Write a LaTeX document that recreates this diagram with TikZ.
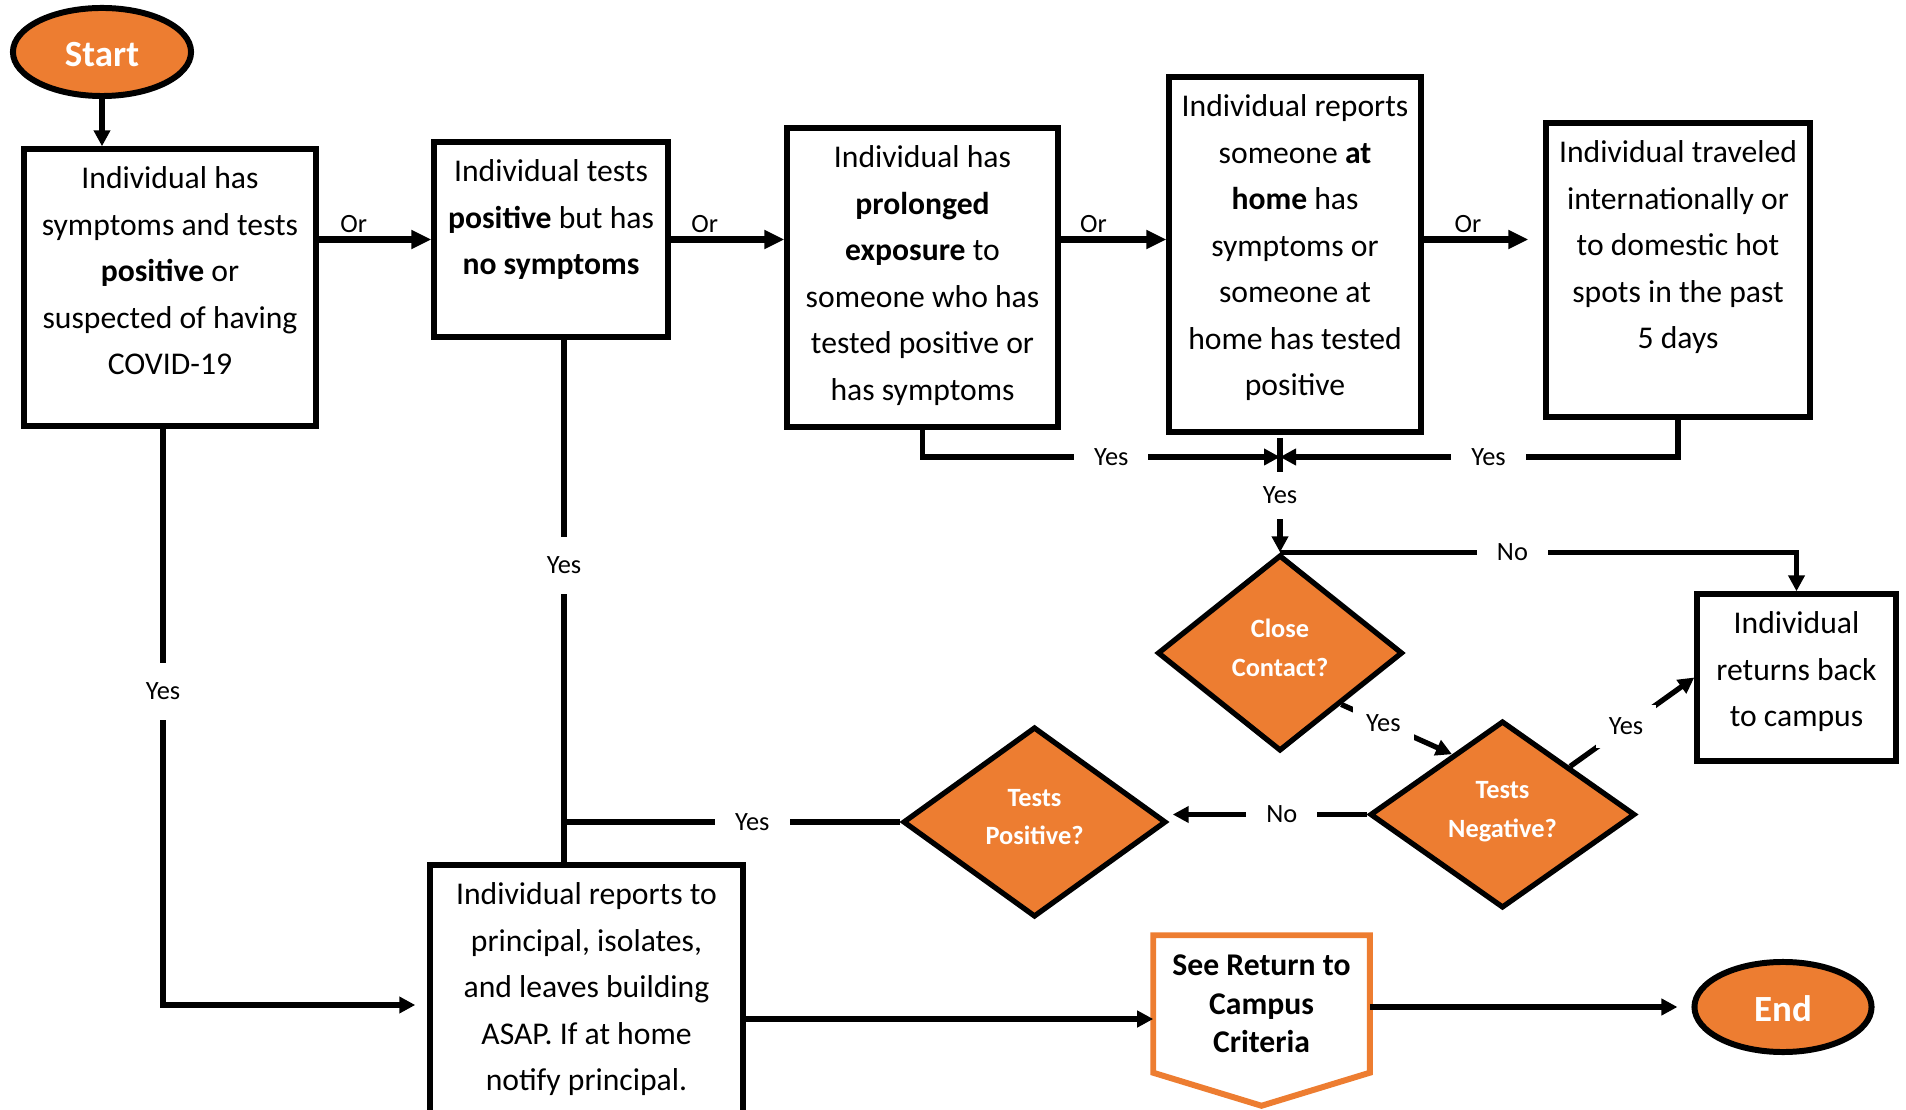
\documentclass[tikz,border=0pt]{standalone}
\usepackage{fontspec}
\setmainfont{Carlito}
\usetikzlibrary{shapes.geometric,arrows.meta}
\definecolor{flowor}{RGB}{237,125,49}
\newcommand{\boxtext}[3]{\parbox[c][#2][t]{#1}{\centering\rule{0pt}{0.4cm}#3}}
\newcommand{\lift}{\rule[-0.1cm]{0pt}{0.1cm}}

\begin{document}
\begin{tikzpicture}[x=0.01cm, y=-0.01cm,
    box/.style={draw, line width=1.5pt, inner sep=0pt, font=\fontsize{9}{13.2}\selectfont},
    ends/.style={ellipse, draw, line width=1.7pt, fill=flowor, text=white, text height=0.29cm, font=\fontsize{10.5}{12}\selectfont\bfseries},
    question/.style={diamond, draw, line width=1.5pt, fill=flowor, text=white, inner sep=0pt, align=center, font=\fontsize{7.5}{11}\selectfont\bfseries},
    arr/.style={line width=1.5pt, -{Triangle[length=0.16cm, width=0.16cm]}},
    orarr/.style={line width=2pt, -{Triangle[length=0.2cm, width=0.18cm]}},
    lbl/.style={fill=white, inner sep=0.2cm, font=\fontsize{7.5}{9}\selectfont},
    orlbl/.style={above, inner sep=0.03cm, font=\fontsize{7.5}{9}\selectfont}]
    \clip (0,0) rectangle (1906,1110);

    % start / end and boxes
    \node[ends, minimum width=1.78cm, minimum height=0.88cm] (start) at (102,52) {Start};
    \node[box] (b1) at (170,287.5) {\boxtext{2.92cm}{2.77cm}{Individual has\\ symptoms and tests\\ \textbf{positive} or\\ suspected of having\\ COVID-19}};
    \node[box] (b2) at (551,239.5) {\boxtext{2.34cm}{1.95cm}{Individual tests\\ \textbf{positive} but has\\ \textbf{no symptoms}}};
    \node[box] (b3) at (922.5,277.5) {\boxtext{2.71cm}{2.99cm}{Individual has\\ \textbf{prolonged}\\ \textbf{exposure} to\\ someone who has\\ tested positive or\\ has symptoms}};
    \node[box] (b4) at (1295,254.5) {\boxtext{2.52cm}{3.55cm}{Individual reports\\ someone \textbf{at}\\ \textbf{home} has\\ symptoms or\\ someone at\\ home has tested\\ positive}};
    \node[box] (b5) at (1678,270) {\boxtext{2.64cm}{2.94cm}{Individual traveled\\ internationally or\\ to domestic hot\\ spots in the past\\ 5 days}};
    \node[box] (b6) at (1796.5,677.5) {\boxtext{1.99cm}{1.67cm}{Individual\\ returns back\\ to campus}};
    \node[box] (b7) at (586.5,1005) {\boxtext{3.13cm}{2.80cm}{Individual reports to\\ principal, isolates,\\ and leaves building\\ ASAP. If at home\\ notify principal.}};

    % questions
    \node[question, minimum width=2.45cm, minimum height=1.96cm] (cc) at (1280,653) {Close\\ Contact?\lift};
    \node[question, minimum width=2.65cm, minimum height=1.87cm] (tn) at (1502.5,814.5) {Tests\\ Negative?\lift};
    \node[question, minimum width=2.63cm, minimum height=1.90cm] (tp) at (1034.5,822) {Tests\\ Positive?\lift};

    % return to campus criteria
    \node[align=center, minimum width=2.15cm, minimum height=1.36cm, inner sep=0pt, font=\fontsize{9}{11}\selectfont\bfseries] (crit) at (1261.5,1004) {See Return to\\ Campus\\ Criteria};
    \draw[flowor, line width=1.7pt] (crit.north west) -- (crit.north east) -- (crit.south east) -- ([yshift=-0.33cm]crit.south) -- (crit.south west) -- cycle;
    \node[ends, minimum width=1.77cm, minimum height=0.90cm] (finish) at (1783,1007) {End};

    % connectors
    \draw[arr] (start.south) -- (start.south |- b1.north);
    \draw[orarr] (b1.east |- b2.west) -- node[orlbl, pos=0.31]{Or} (b2.west);
    \draw[orarr] (b2.east) -- node[orlbl, pos=0.3]{Or} (b2.east -| b3.west);
    \draw[orarr] (b3.east |- b2.east) -- node[orlbl, pos=0.31]{Or} (b4.west |- b2.east);
    \draw[orarr, shorten >=0.15cm] (b4.east |- b2.east) -- node[orlbl, pos=0.37]{Or} (b5.west |- b2.east);

    \coordinate (jn) at (1280,457);
    \draw[arr] (b3.south) |- node[lbl, pos=0.764]{Yes} (jn);
    \draw[arr] (b5.south) |- node[lbl, pos=0.738]{Yes} (jn);
    \draw[arr] ([yshift=0.19cm]jn) -- node[lbl, inner ysep=0.15cm]{Yes} (cc.north);
    \draw[arr] (cc.north) -| node[lbl, pos=0.225]{No} (b6.north);
    \draw[arr] (cc.-40) -- node[lbl, pos=0.38, inner sep=0.13cm]{Yes} (tn.130);
    \draw[arr] (tn.north east) -- node[lbl, pos=0.45, inner sep=0.13cm]{Yes} (b6.west);
    \draw[arr, shorten >=0.04cm] (tn.west) -- node[lbl, pos=0.43]{No} (tn.west -| tp.east);

    \coordinate (v2) at ([xshift=0.13cm]b2.south);
    \draw[line width=1.5pt] (v2) -- node[lbl, pos=0.432]{Yes} (v2 |- b7.north);
    \draw[line width=1.5pt] (tp.west) -- node[lbl, pos=0.44]{Yes} (tp.west -| v2);
    \draw[arr, shorten >=0.12cm] ([xshift=-0.07cm]b1.south) |- node[lbl, pos=0.228]{Yes} (b7.west);

    \coordinate (cin) at ([yshift=-0.15cm]crit.west);
    \draw[arr] (b7.east |- cin) -- (cin);
    \draw[arr, shorten >=0.14cm] (crit.east |- finish.west) -- (finish.west);
\end{tikzpicture}
\end{document}
